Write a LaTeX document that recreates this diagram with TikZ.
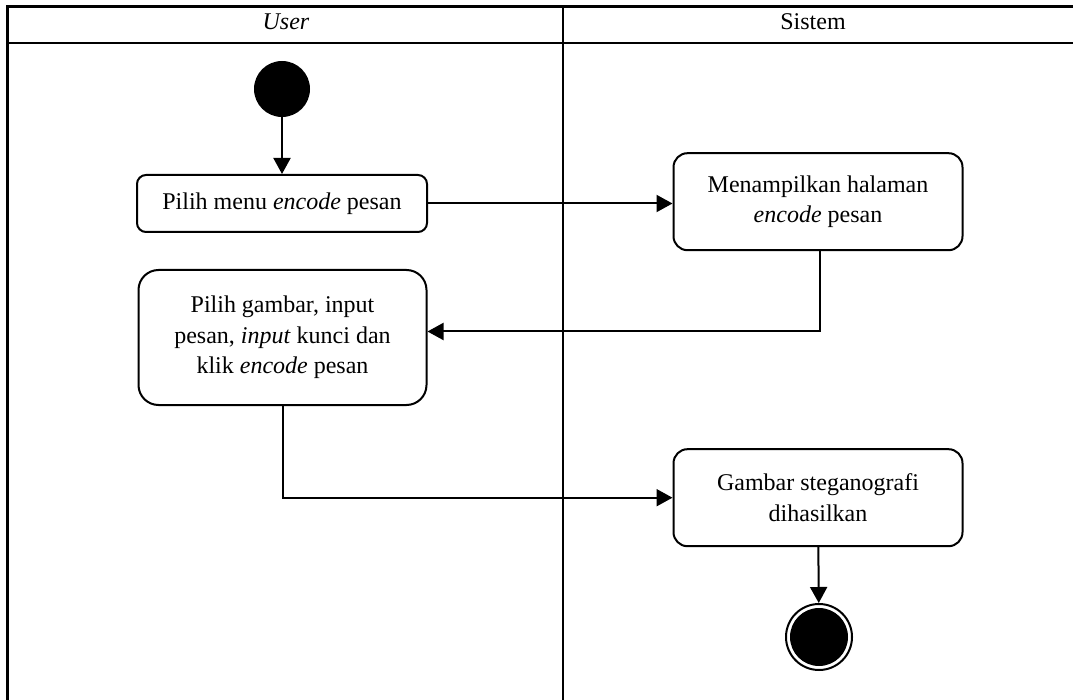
\documentclass[tikz,border=0pt]{standalone}
\usepackage{fontspec}
\setmainfont{Liberation Serif}
\usetikzlibrary{arrows.meta}

\tikzset{
  frameline/.style={line width=2.4pt, line cap=rect},
  action/.style={draw, line width=2pt, inner sep=0pt, align=center,
                 font=\fontsize{24}{30.5}\selectfont},
  flow/.style={line width=2pt, -{Triangle[length=16pt,width=17pt]}},
  lanetitle/.style={anchor=base, font=\fontsize{24}{28}\selectfont},
}

\begin{document}
\begin{tikzpicture}[x=1pt, y=-1pt]
  \useasboundingbox (0,0) rectangle (1073,700);

  % swimlane frame
  \draw[frameline] (1073,6.7) -- (7.5,6.7) -- (7.5,700);
  \draw[frameline] (7.5,43.3) -- (1073,43.3);
  \draw[frameline] (562.7,6.7) -- (562.7,700);

  % lane titles
  \node[lanetitle] (laneuser) at (286,29.5) {\textit{User}};
  \node[lanetitle] (lanesys) at (813,29.5) {Sistem};

  % initial state
  \node[circle, fill=black, minimum size=56pt, inner sep=0pt] (start) at (282,89) {};

  % actions
  \node[action, rounded corners=9pt, minimum width=290pt, minimum height=57pt]
    (choose) at (282,203.5) {Pilih menu \textit{encode} pesan};
  \node[action, rounded corners=14pt, minimum width=289pt, minimum height=97pt]
    (show) at (818,201.7) {Menampilkan halaman\\\textit{encode} pesan};
  \node[action, rounded corners=20pt, minimum width=288pt, minimum height=135pt]
    (input) at (282.5,337.5) {Pilih gambar, input\\pesan, \textit{input} kunci dan\\klik \textit{encode} pesan};
  \node[action, rounded corners=14pt, minimum width=289pt, minimum height=97pt]
    (result) at (818,497.7) {Gambar steganografi\\dihasilkan};

  % final state
  \node[circle, draw, line width=2pt, minimum size=66pt, inner sep=0pt] (stop) at (819,637) {};
  \fill (stop.center) circle[radius=29pt];

  % control flow
  \draw[flow] (start) -- (choose);
  \draw[flow] (choose.east) -- (choose.east -| show.west);
  \draw[flow] ([xshift=2pt]show.south) |- ([yshift=6pt]input.east);
  \draw[flow] (input.south) |- (result.west);
  \draw[flow] (result) -- (stop);
\end{tikzpicture}
\end{document}
